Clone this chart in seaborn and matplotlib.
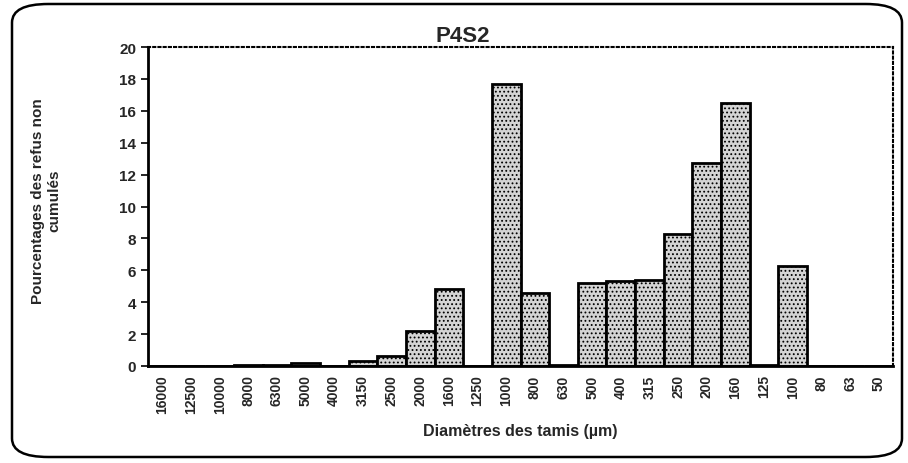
import matplotlib
matplotlib.use("Agg")
import matplotlib.pyplot as plt
from matplotlib.patches import FancyBboxPatch
import seaborn as sns
import pandas as pd

sieves = ["16000", "12500", "10000", "8000", "6300", "5000", "4000", "3150",
          "2500", "2000", "1600", "1250", "1000", "800", "630", "500", "400",
          "315", "250", "200", "160", "125", "100", "80", "63", "50"]
percent = [0.0, 0.0, 0.0, 0.05, 0.05, 0.2, 0.0, 0.3,
           0.6, 2.2, 4.8, 0.0, 17.7, 4.6, 0.05, 5.2, 5.3,
           5.4, 8.3, 12.7, 16.5, 0.05, 6.3, 0.0, 0.0, 0.0]
yticks = list(range(0, 21, 2))

df = pd.DataFrame({"tamis": sieves, "pct": percent})

sns.set_style("white")
plt.rcParams["font.family"] = ["Liberation Sans", "DejaVu Sans"]
plt.rcParams["hatch.color"] = "#555555"
plt.rcParams["hatch.linewidth"] = 0.8

fig = plt.figure(figsize=(9.08, 4.64), dpi=100)
ax = fig.add_axes([148 / 908, 1 - 367 / 464, (893 - 148) / 908, (367 - 48) / 464])

sns.barplot(data=df, x="tamis", y="pct", order=sieves, ax=ax,
            color="#d4d4d4", width=1.0, saturation=1,
            edgecolor="black", linewidth=2)
for p in ax.patches:
    p.set_hatch("....")

ax.set_ylim(0, 20)
ax.set_xlim(-0.5, len(sieves) - 0.5)
ax.set_yticks(yticks)
ax.set_yticklabels([str(t) for t in yticks], fontsize=11, fontweight="bold")
ax.set_xticks(range(len(sieves)))
ax.set_xticklabels(sieves, rotation=90, fontsize=10, fontweight="bold")
ax.set_xticks([i - 0.5 for i in range(len(sieves) + 1)], minor=True)
ax.tick_params(axis="x", which="major", length=0, pad=6)
ax.tick_params(axis="x", which="minor", length=5, width=1.2, direction="out", color="black")
ax.tick_params(axis="y", length=5, width=1.2, direction="out", color="black", left=True)

for side in ("left", "bottom"):
    ax.spines[side].set_color("black")
    ax.spines[side].set_linewidth(2)
for side in ("top", "right"):
    ax.spines[side].set_visible(True)
    ax.spines[side].set_color("black")
    ax.spines[side].set_linewidth(1.5)
    ax.spines[side].set_linestyle((0, (1, 1.5)))

ax.set_xlabel("Diamètres des tamis (µm)", fontsize=11.5, fontweight="bold", labelpad=7)
ax.set_ylabel("Pourcentages des refus non\ncumulés", fontsize=11,
              fontweight="bold")
ax.yaxis.set_label_coords(-0.116, 0.52)
fig.text(463 / 908, 1 - 37 / 464, "P4S2", ha="center", va="center",
         fontsize=16, fontweight="bold")

frame = FancyBboxPatch((12 / 908, 6 / 464), (902 - 12) / 908, (459 - 6) / 464,
                       boxstyle="round,pad=0,rounding_size=0.04",
                       transform=fig.transFigure, fill=False,
                       edgecolor="black", linewidth=1.8)
fig.patches.append(frame)

fig.savefig("out.png", dpi=100)
